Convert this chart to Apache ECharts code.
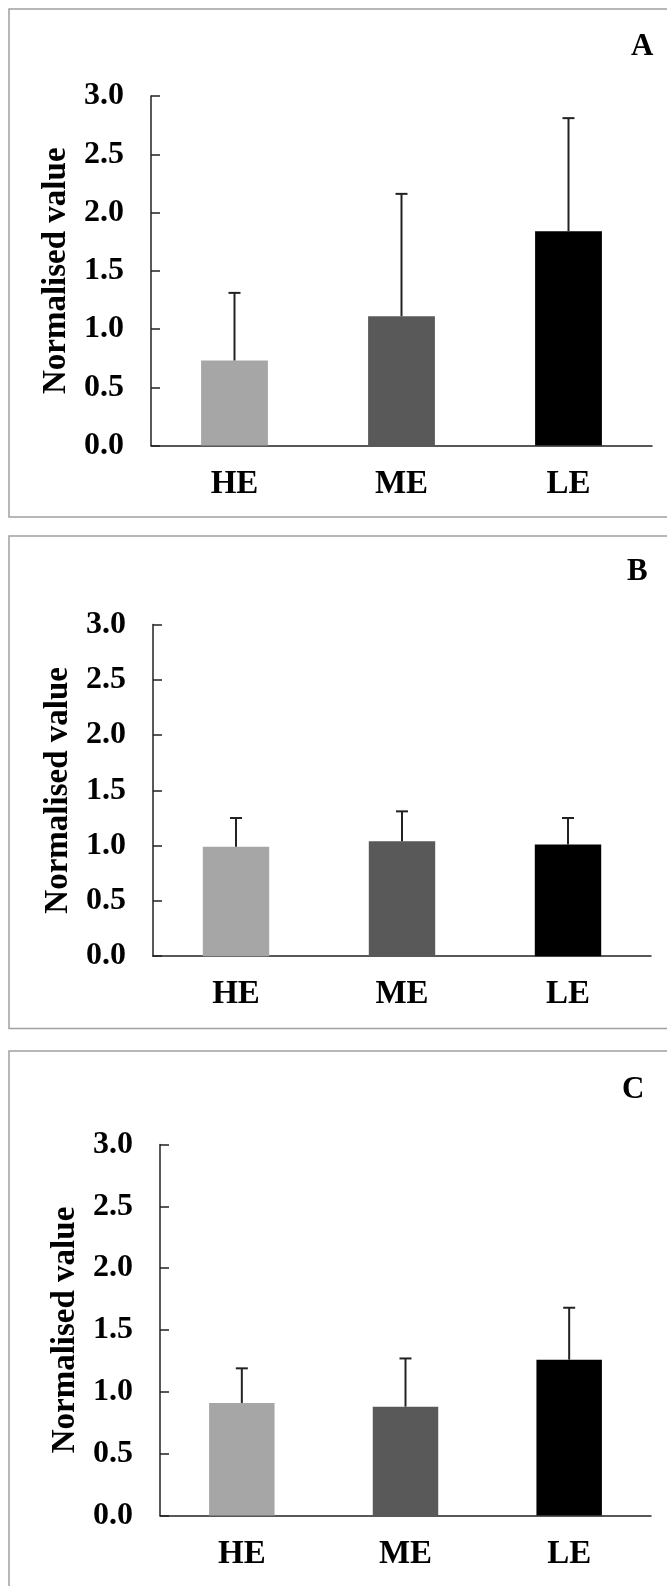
<!DOCTYPE html>
<html>
<head>
<meta charset="utf-8">
<script src="https://cdn.jsdelivr.net/npm/echarts@6/dist/echarts.min.js"></script>
<style>
html,body{margin:0;padding:0;background:#fff;}
#chart{width:667px;height:1586px;}
</style>
</head>
<body>
<div id="chart"></div>
<script>
// ---- data ----
const categories = ['HE', 'ME', 'LE'];
const panelLabels = ['A', 'B', 'C'];
const yTicks = [0, 0.5, 1.0, 1.5, 2.0, 2.5, 3.0];
const meanA = [0.73, 1.11, 1.84];
const sdA   = [0.58, 1.05, 0.97];
const meanB = [0.99, 1.04, 1.01];
const sdB   = [0.26, 0.27, 0.24];
const meanC = [0.91, 0.88, 1.26];
const sdC   = [0.28, 0.39, 0.42];

// ---- styles / layout ----
const barColors = ['#a6a6a6', '#595959', '#000000'];
const FONT = '"Liberation Serif", "Times New Roman", serif';
const grids = [
  {left: 151, top: 96, width: 501, height: 349.5},
  {left: 153, top: 624.5, width: 498, height: 331.7},
  {left: 160, top: 1144.5, width: 491, height: 371}
];
const nameGaps = [73, 75, 74];
const frames = [
  {y: 9, h: 508},
  {y: 536, h: 492.5},
  {y: 1051, h: 600}
];
const letterPos = [
  {left: 631, top: 31},
  {left: 627, top: 556},
  {left: 622, top: 1074}
];
const means = [meanA, meanB, meanC];
const sds = [sdA, sdB, sdC];

const chart = echarts.init(document.getElementById('chart'), null, {renderer: 'canvas'});

const xAxes = [], yAxes = [], series = [], titles = [], graphics = [];
grids.forEach((g, i) => {
  xAxes.push({
    gridIndex: i, type: 'category', data: categories,
    axisLine: {lineStyle: {color: '#222', width: 1.5}},
    axisTick: {show: false},
    axisLabel: {fontFamily: FONT, fontWeight: 'bold', fontSize: 33, color: '#000', margin: 22}
  });
  yAxes.push({
    gridIndex: i, type: 'value', min: yTicks[0], max: yTicks[yTicks.length - 1], interval: 0.5,
    name: 'Normalised value', nameLocation: 'middle', nameGap: nameGaps[i],
    nameTextStyle: {fontFamily: FONT, fontWeight: 'bold', fontSize: 33, color: '#000'},
    axisLine: {show: true, lineStyle: {color: '#222', width: 1.5}},
    axisTick: {show: true, inside: true, length: 9, lineStyle: {color: '#222', width: 1.5}},
    splitLine: {show: false},
    axisLabel: {fontFamily: FONT, fontWeight: 'bold', fontSize: 32, color: '#000', margin: 27,
      formatter: v => v.toFixed(1)}
  });
  series.push({
    type: 'bar', xAxisIndex: i, yAxisIndex: i, barWidth: '40%',
    data: means[i].map((v, k) => ({value: v, itemStyle: {color: barColors[k]}})),
    silent: true, animation: false
  });
  series.push({
    type: 'custom', xAxisIndex: i, yAxisIndex: i, silent: true, animation: false, z: 5,
    data: means[i].map((v, k) => [k, v, v + sds[i][k]]),
    renderItem: function (params, api) {
      const base = api.coord([api.value(0), api.value(1)]);
      const top = api.coord([api.value(0), api.value(2)]);
      const style = {stroke: '#222', lineWidth: 2};
      return {
        type: 'group',
        children: [
          {type: 'line', shape: {x1: base[0], y1: base[1], x2: top[0], y2: top[1]}, style: style},
          {type: 'line', shape: {x1: top[0] - 6, y1: top[1], x2: top[0] + 6, y2: top[1]}, style: style}
        ]
      };
    }
  });
  titles.push({
    text: panelLabels[i], left: letterPos[i].left, top: letterPos[i].top, padding: 0,
    textStyle: {fontFamily: FONT, fontWeight: 'bold', fontSize: 31, color: '#000'}
  });
  graphics.push({
    type: 'rect', silent: true, z: -1,
    shape: {x: 9, y: frames[i].y, width: 720, height: frames[i].h},
    style: {fill: 'none', stroke: '#a0a0a0', lineWidth: 1.5}
  });
});

chart.setOption({
  animation: false,
  backgroundColor: '#fff',
  title: titles,
  grid: grids,
  xAxis: xAxes,
  yAxis: yAxes,
  series: series,
  graphic: graphics
});
</script>
</body>
</html>
